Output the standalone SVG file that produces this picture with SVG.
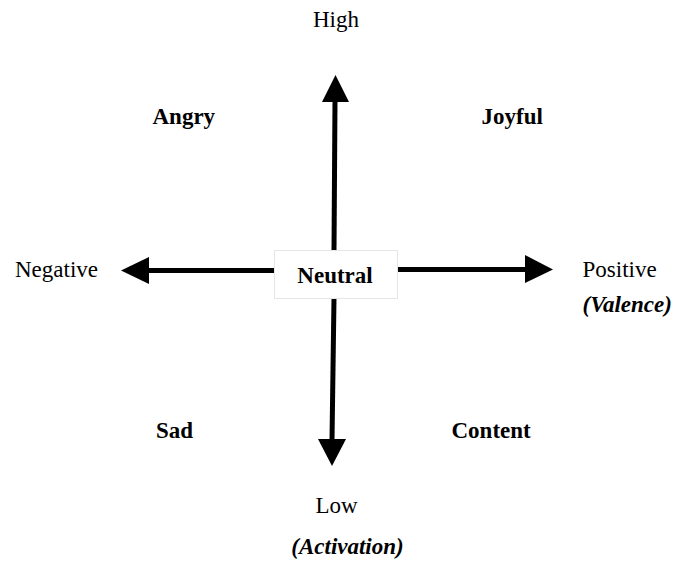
<svg xmlns="http://www.w3.org/2000/svg" width="678" height="563" viewBox="0 0 678 563">
<style>
text{font-family:"Liberation Serif","Times New Roman",serif;font-size:23px;fill:#000}
.b{font-weight:bold}
.bi{font-weight:bold;font-style:italic}
.ax{stroke:#000;stroke-width:5;fill:none}
.hd{fill:#000;stroke:none}
</style>
<rect width="678" height="563" fill="#fff"/>
<g id="connectors">
<line class="ax" x1="335" y1="100" x2="334" y2="250"/>
<polygon class="hd" points="335.5,75 322,102 349,102"/>
<line class="ax" x1="334" y1="298" x2="332" y2="440"/>
<polygon class="hd" points="332,466 318,439 346,439"/>
<line class="ax" x1="147" y1="270.5" x2="274" y2="270.5"/>
<polygon class="hd" points="121,270.5 149,257 149,284"/>
<line class="ax" x1="397" y1="269.5" x2="527" y2="269.5"/>
<polygon class="hd" points="553,269.5 525,255 525,283"/>
</g>
<g id="neutral">
<rect x="274.5" y="250.5" width="123" height="48" fill="#fff" stroke="#e6e6e6" stroke-width="1"/>
<text class="b" x="335" y="283" text-anchor="middle">Neutral</text>
</g>
<g id="high"><text x="336" y="27" text-anchor="middle">High</text></g>
<g id="low"><text x="336.5" y="513" text-anchor="middle">Low</text></g>
<g id="activation"><text class="bi" x="347.5" y="554" text-anchor="middle">(Activation)</text></g>
<g id="negative"><text x="15" y="277">Negative</text></g>
<g id="positive"><text x="582.5" y="277">Positive</text></g>
<g id="valence"><text class="bi" x="582.5" y="312">(Valence)</text></g>
<g id="angry"><text class="b" x="152.5" y="123.5">Angry</text></g>
<g id="joyful"><text class="b" x="481.5" y="123.5">Joyful</text></g>
<g id="sad"><text class="b" x="156" y="437.5">Sad</text></g>
<g id="content"><text class="b" x="451.5" y="437.5">Content</text></g>
</svg>
